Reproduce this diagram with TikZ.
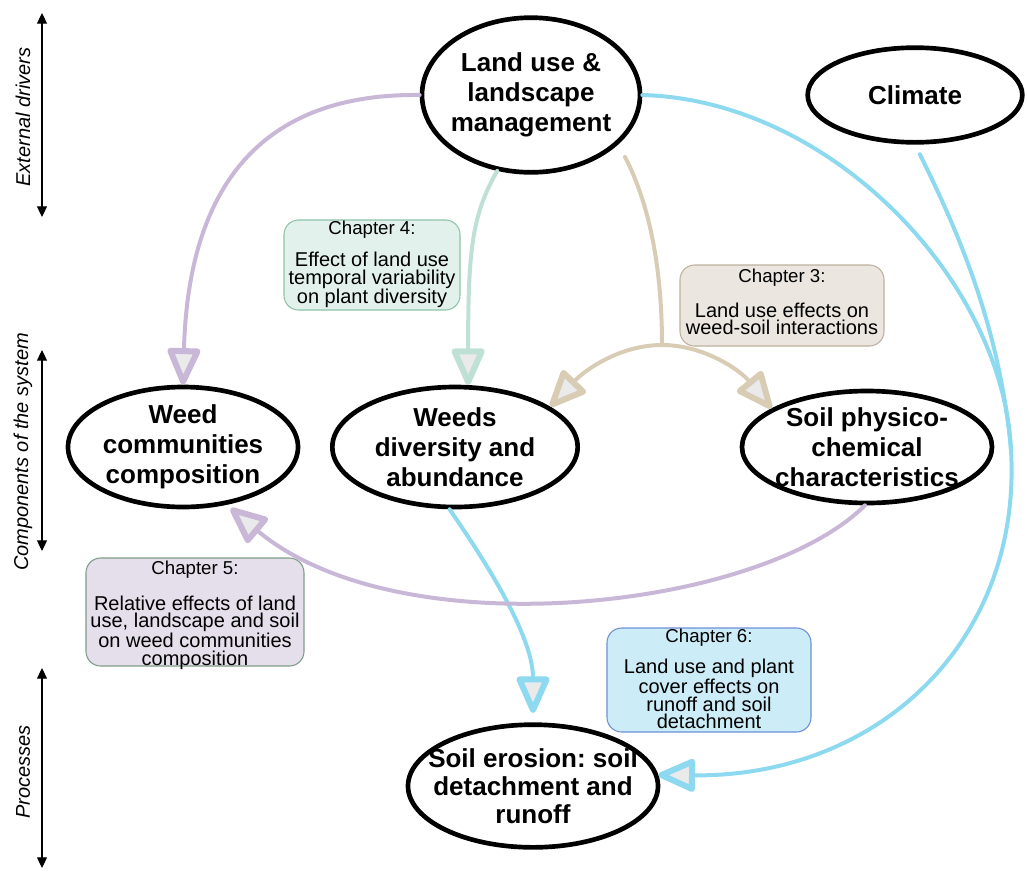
\documentclass[tikz,border=0pt]{standalone}
\usepackage{fontspec}
\setmainfont{Liberation Sans}
\frenchspacing
\usetikzlibrary{arrows.meta,shapes.geometric}
\definecolor{cpurple}{RGB}{200,183,215}
\definecolor{cgreen}{RGB}{190,224,213}
\definecolor{ctan}{RGB}{216,204,180}
\definecolor{cblue}{RGB}{140,217,240}
\definecolor{tipfill}{RGB}{234,234,234}
\definecolor{chfourfill}{RGB}{227,241,236}
\definecolor{chfourline}{RGB}{140,196,168}
\definecolor{chthreefill}{RGB}{235,230,223}
\definecolor{chthreeline}{RGB}{189,177,159}
\definecolor{chfivefill}{RGB}{229,222,235}
\definecolor{chfiveline}{RGB}{127,156,134}
\definecolor{chsixfill}{RGB}{204,236,247}
\definecolor{chsixline}{RGB}{110,143,214}
\tikzset{
  hollowtip/.tip={Triangle[length=31pt,width=26pt,line width=4.5pt,fill=tipfill,round]},
  ellbox/.style={ellipse, draw=black, line width=3.5pt, inner sep=0pt},
  elltext/.style={align=center, inner sep=0pt, font=\fontsize{19.5}{22.5}\selectfont\bfseries},
  chbox/.style={rectangle, rounded corners=11pt, line width=0.8pt, inner sep=0pt},
  chtext/.style={align=center, inner sep=0pt},
  conn/.style={line width=3pt, line cap=round},
  axisline/.style={line width=0.8pt, {Triangle[length=8pt,width=7.5pt]}-{Triangle[length=8pt,width=7.5pt]}},
  axislabel/.style={rotate=90, inner sep=0pt, font=\fontsize{15}{15}\selectfont\itshape}
}
\begin{document}
\begin{tikzpicture}[x=0.75pt,y=-0.75pt]
\useasboundingbox (0,0) rectangle (1027,872);

% side axes
\coordinate (axAt) at (42,13);
\coordinate (axAb) at (42,217);
\coordinate (axBt) at (42,350);
\coordinate (axBb) at (42,551);
\coordinate (axCt) at (42,668);
\coordinate (axCb) at (42,868);
\draw[axisline] (axAt) -- (axAb);
\draw[axisline] (axBt) -- (axBb);
\draw[axisline] (axCt) -- (axCb);
\node[axislabel] (labA) at (23,117) {External drivers};
\node[axislabel] (labB) at (23,452) {Components of the system};
\node[axislabel] (labC) at (23,772) {Processes};

% chapter boxes
\node[chbox, fill=chfourfill, draw=chfourline, minimum width=132pt, minimum height=67.5pt] (chfour) at (372,265) {};
\node[chtext, font=\fontsize{15}{14}\selectfont] (chfourt) at (372,264)
  {{\fontsize{14}{14}\selectfont Chapter 4:}\\[10pt]Effect of land use\\temporal variability\\on plant diversity};
\node[chbox, fill=chthreefill, draw=chthreeline, minimum width=153pt, minimum height=60.75pt] (chthree) at (782,305.5) {};
\node[chtext, font=\fontsize{15}{12.75}\selectfont] (chthreet) at (782,301.5)
  {{\fontsize{14}{14}\selectfont Chapter 3:}\\[11.25pt]Land use effects on\\weed-soil interactions};
\node[chbox, fill=chfivefill, draw=chfiveline, minimum width=163.5pt, minimum height=81pt] (chfive) at (195,612) {};
\node[chtext, font=\fontsize{15}{13.25}\selectfont] (chfivet) at (195,615)
  {{\fontsize{14}{14}\selectfont Chapter 5:}\\[12.25pt]Relative effects of land\\use, landscape and soil\\on weed communities\\composition};
\node[chbox, fill=chsixfill, draw=chsixline, minimum width=153pt, minimum height=78pt] (chsix) at (709,680) {};
\node[chtext, font=\fontsize{15}{13}\selectfont] (chsixt) at (709,678.5)
  {{\fontsize{14}{14}\selectfont Chapter 6:}\\[9pt]Land use and plant\\cover effects on\\runoff and soil\\detachment};

% ellipses
\node[ellbox, minimum width=163.5pt, minimum height=116pt] (land) at (531,95) {};
\node[elltext] (landt) at (land) {Land use \&\\landscape\\management};
\node[ellbox, minimum width=161pt, minimum height=71pt] (climate) at (915,95) {};
\node[elltext] (climatet) at (climate) {Climate};
\node[ellbox, minimum width=172.5pt, minimum height=90pt] (weedcomp) at (183,447) {};
\node[elltext] (weedcompt) at (weedcomp) {Weed\\communities\\composition};
\node[ellbox, minimum width=184pt, minimum height=90pt] (weeddiv) at (455,447) {};
\node[elltext] (weeddivt) at (weeddiv) {Weeds\\diversity and\\abundance};
\node[ellbox, minimum width=187.5pt, minimum height=84pt] (soilphys) at (867,447) {};
\node[elltext] (soilphyst) at (soilphys) {Soil physico-\\chemical\\characteristics};
\node[ellbox, minimum width=187.5pt, minimum height=92pt] (erosion) at (533,786) {};
\node[elltext, font=\fontsize{19.5}{21}\selectfont\bfseries] (erosiont) at (erosion) {Soil erosion: soil\\detachment and\\runoff};

% helper coordinates
\coordinate (tanstart) at (625,157);
\coordinate (junction) at (662,345);
\coordinate (merge) at (1011,450);

% connectors
\draw[conn, cpurple, -hollowtip] (land.west) .. controls (250,93) and (188,200) .. (weedcomp.north);
\draw[conn, cgreen, -hollowtip] (land.246) .. controls (472,215) and (468,250) .. (weeddiv.78);
\draw[conn, ctan] (tanstart) .. controls (650,205) and (662,270) .. (junction);
\draw[conn, ctan, -hollowtip] (junction) .. controls (620,345) and (585,370) .. (weeddiv.23);
\draw[conn, ctan, -hollowtip] (junction) .. controls (704,345) and (740,370) .. (soilphys.158);
\draw[conn, cblue, -hollowtip, shorten >=7pt] (weeddiv.265) .. controls (495,575) and (533,640) .. (erosion.north);
\draw[conn, cblue] (land.east) .. controls (830,100) and (1003,280) .. (merge);
\draw[conn, cblue, shorten <=8pt] (climate.south) .. controls (960,235) and (1000,330) .. (merge);
\draw[conn, cblue, -hollowtip] (merge) .. controls (1022,640) and (880,777) .. (erosion.5);
\draw[conn, cpurple, -hollowtip, shorten >=4pt] (soilphys.268) .. controls (760,610) and (400,650) .. (weedcomp.-53);
\end{tikzpicture}
\end{document}
